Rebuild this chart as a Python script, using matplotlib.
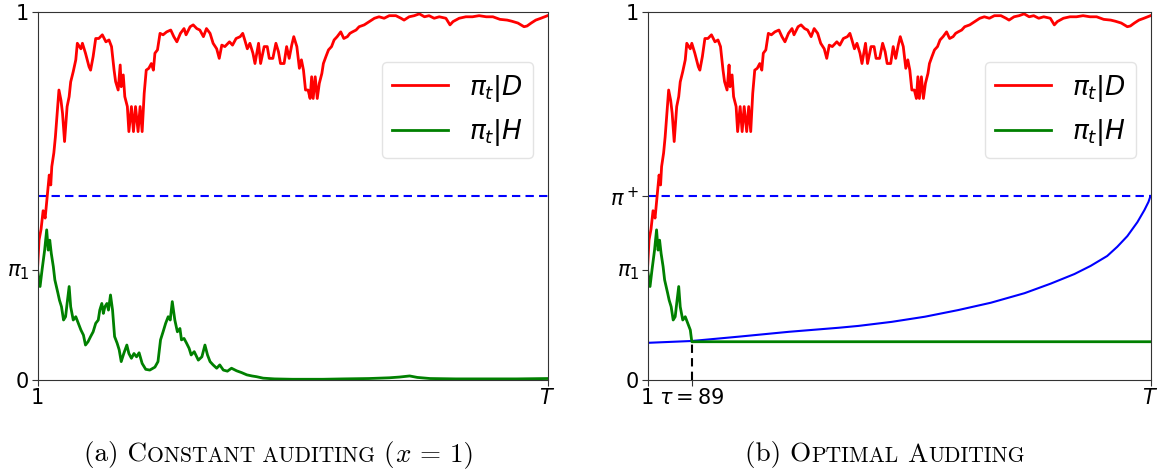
import matplotlib
matplotlib.use("Agg")
import matplotlib.pyplot as plt
import numpy as np
from matplotlib.offsetbox import TextArea, HPacker, AnnotationBbox

# values (t runs from 1 to T=1000)
T = 1000
tau = 89
pi_1 = 0.30
pi_plus = 0.50
tau_level = 0.104

red_t = [1, 4, 8, 12, 16, 20, 24, 27, 29, 33, 36, 40, 43, 47, 50, 54, 59, 63, 66, 71,
         76, 79, 86, 89, 95, 102, 105, 110, 115, 121, 128, 135, 141, 146, 151, 154, 159, 163, 165, 169,
         172, 177, 180, 185, 189, 193, 198, 202, 206, 210, 214, 219, 224, 228, 231, 236, 241, 247, 254, 262,
         268, 274, 281, 288, 292, 300, 306, 313, 319, 326, 332, 339, 345, 352, 357, 362, 368, 377, 383, 390,
         398, 403, 407, 412, 417, 423, 427, 434, 438, 445, 451, 455, 462, 468, 473, 477, 484, 489, 494, 499,
         503, 509, 514, 518, 522, 526, 531, 535, 538, 541, 545, 549, 553, 558, 561, 566, 571, 577, 582, 588,
         595, 601, 608, 613, 618, 625, 631, 641, 651, 661, 670, 680, 690, 703, 713, 719, 729, 739, 749, 759,
         768, 778, 788, 801, 809, 815, 827, 840, 853, 866, 880, 893, 907, 921, 930, 942, 954, 960, 968, 977,
         987, 1000]
red_v = [0.30, 0.38, 0.41, 0.46, 0.44, 0.50, 0.557, 0.53, 0.58, 0.617, 0.66, 0.733, 0.788, 0.76, 0.725, 0.648, 0.743, 0.77, 0.81, 0.838,
         0.87, 0.915, 0.90, 0.915, 0.888, 0.851, 0.842, 0.879, 0.928, 0.928, 0.938, 0.919, 0.924, 0.906, 0.842, 0.811, 0.788, 0.856, 0.797, 0.829,
         0.77, 0.743, 0.675, 0.743, 0.675, 0.743, 0.675, 0.743, 0.675, 0.779, 0.842, 0.847, 0.86, 0.842, 0.888, 0.897, 0.942, 0.938, 0.946, 0.951,
         0.933, 0.919, 0.942, 0.955, 0.938, 0.96, 0.965, 0.955, 0.951, 0.933, 0.955, 0.942, 0.915, 0.90, 0.874, 0.91, 0.906, 0.919, 0.91, 0.928,
         0.933, 0.942, 0.924, 0.90, 0.915, 0.888, 0.86, 0.915, 0.86, 0.906, 0.906, 0.874, 0.874, 0.915, 0.892, 0.86, 0.86, 0.906, 0.874, 0.91,
         0.933, 0.906, 0.847, 0.87, 0.842, 0.788, 0.788, 0.765, 0.824, 0.765, 0.824, 0.765, 0.806, 0.833, 0.86, 0.879, 0.897, 0.906, 0.924, 0.933,
         0.946, 0.928, 0.933, 0.942, 0.946, 0.951, 0.96, 0.965, 0.974, 0.983, 0.987, 0.983, 0.99, 0.99, 0.983, 0.978, 0.987, 0.99, 0.995, 0.987,
         0.99, 0.983, 0.987, 0.983, 0.965, 0.974, 0.983, 0.987, 0.987, 0.99, 0.987, 0.987, 0.98, 0.978, 0.975, 0.97, 0.96, 0.962, 0.97, 0.978,
         0.983, 0.99]

green_t = [1, 6, 10, 15, 19, 22, 25, 28, 32, 35, 38, 41, 44, 48, 52, 56, 59, 63, 66, 71,
           76, 81, 86, 91, 95, 100, 105, 110, 115, 120, 123, 127, 130, 133, 137, 140, 144, 148, 152, 157,
           161, 165, 170, 176, 180, 185, 190, 195, 200, 206, 213, 221, 231, 237, 242, 247, 252, 257, 261, 265,
           270, 275, 280, 283, 288, 293, 298, 302, 308, 316, 323, 329, 334, 339, 345, 352, 358, 365, 373, 381,
           391, 401, 411, 421, 430, 443, 465, 500, 560, 600, 650, 690, 710, 730, 745, 770, 820, 880, 940, 1000]
green_v = [0.30, 0.254, 0.30, 0.353, 0.408, 0.353, 0.38, 0.344, 0.308, 0.272, 0.254, 0.236, 0.217, 0.199, 0.163, 0.172, 0.208, 0.254, 0.199, 0.163,
           0.172, 0.154, 0.136, 0.122, 0.095, 0.104, 0.118, 0.131, 0.154, 0.163, 0.19, 0.208, 0.181, 0.199, 0.208, 0.19, 0.231, 0.19, 0.118, 0.10,
           0.082, 0.05, 0.072, 0.095, 0.072, 0.059, 0.072, 0.063, 0.074, 0.045, 0.029, 0.027, 0.035, 0.05, 0.109, 0.131, 0.154, 0.172, 0.163, 0.213,
           0.163, 0.131, 0.14, 0.109, 0.113, 0.10, 0.086, 0.068, 0.077, 0.054, 0.063, 0.095, 0.068, 0.05, 0.041, 0.032, 0.041, 0.027, 0.024, 0.032,
           0.025, 0.02, 0.014, 0.011, 0.009, 0.005, 0.003, 0.002, 0.002, 0.003, 0.004, 0.006, 0.008, 0.011, 0.007, 0.004, 0.003, 0.003, 0.003, 0.004]

# threshold curve of the optimal policy
thr_t = [1, 89, 184, 282, 381, 420, 486, 552, 618, 683, 750, 802, 849, 881, 914, 934, 954, 974, 988, 996, 1000]
thr_v = [0.101, 0.106, 0.118, 0.131, 0.142, 0.147, 0.158, 0.172, 0.19, 0.21, 0.236, 0.262, 0.288, 0.31, 0.337, 0.362, 0.391, 0.429, 0.462, 0.484, 0.50]

plt.rcParams['mathtext.fontset'] = 'dejavusans'
fig = plt.figure(figsize=(11.59, 4.70), dpi=100)
W, H = 1159.0, 470.0
ax1 = fig.add_axes([37.5 / W, 90 / H, 510 / W, 368 / H])
ax2 = fig.add_axes([647.5 / W, 90 / H, 503 / W, 368 / H])

# panel (b) green stops at tau
gb_t = [t for t in green_t if t <= 86] + [tau, T]
gb_v = green_v[:len(gb_t) - 2] + [tau_level, tau_level]

for ax in (ax1, ax2):
    ax.axhline(pi_plus, color='blue', ls='--', lw=1.5, dashes=(4, 2.5))
    ax.plot(red_t, red_v, color='red', lw=2, label=r'$\pi_t|D$')
ax1.plot(green_t, green_v, color='green', lw=2, label=r'$\pi_t|H$')
ax2.plot(thr_t, thr_v, color='blue', lw=1.5)
ax2.plot(gb_t, gb_v, color='green', lw=2, label=r'$\pi_t|H$')
ax2.plot([tau, tau], [0, tau_level], color='black', ls='--', lw=1.5, dashes=(4, 2.5))

for ax in (ax1, ax2):
    ax.set_xlim(1, T)
    ax.set_ylim(0, 1)
    for s in ax.spines.values():
        s.set_color('#333333')
    ax.tick_params(labelsize=15, length=4, color='#333333', pad=2)
    ax.legend(loc='upper right', bbox_to_anchor=(0.972, 0.864), borderaxespad=0,
              fontsize=19, handlelength=2.1, framealpha=0.8, edgecolor='#dddddd')

ax1.set_xticks([1, T])
ax1.set_xticklabels(['1', '$T$'])
ax1.set_yticks([0, pi_1, 1])
ax1.set_yticklabels(['0', r'$\pi_1$', '1'])
ax2.set_xticks([1, tau, T])
ax2.set_xticklabels(['1', r'$\tau = 89$', '$T$'])
ax2.set_yticks([0, pi_1, pi_plus, 1])
ax2.set_yticklabels(['0', r'$\pi_1$', r'$\pi^+$', '1'])


def caption(parts, x, y):
    boxes = [TextArea(s, textprops=dict(fontsize=sz, fontfamily='cmr10', math_fontfamily='cm'))
             for s, sz in parts]
    pack = HPacker(children=boxes, align='baseline', pad=0, sep=0)
    ab = AnnotationBbox(pack, (x, y), xycoords='figure pixels', frameon=False,
                        box_alignment=(0.5, 0.5))
    fig.add_artist(ab)


big, small = 19.5, 15.5
caption([('(a) C', big), ('ONSTANT AUDITING', small), (' (', big), ('$x$', big), (' = 1)', big)], 279, 15)
caption([('(b) O', big), ('PTIMAL', small), (' A', big), ('UDITING', small)], 885, 15)

fig.savefig('out.png', dpi=100)
